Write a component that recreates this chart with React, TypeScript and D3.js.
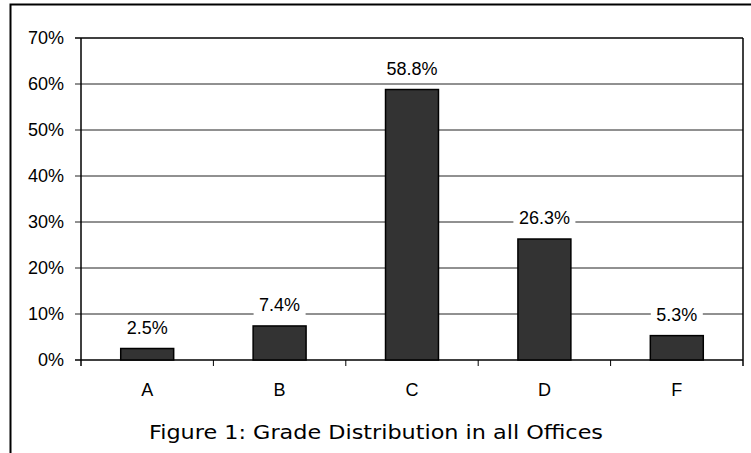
import React from "react";
import * as d3 from "d3";

const categories = ["A", "B", "C", "D", "F"];
const values = [2.5, 7.4, 58.8, 26.3, 5.3];
const yTicks = [0, 10, 20, 30, 40, 50, 60, 70];
const title = "Figure 1: Grade Distribution in all Offices";

export default function App() {
  const W = 751, H = 453;
  const left = 81, right = 743, top = 38, bottom = 360;
  const x = d3.scaleBand<string>().domain(categories).range([left, right]).paddingInner(0.6).paddingOuter(0.3);
  const xb = d3.scaleBand<string>().domain(categories).range([left, right]);
  const y = d3.scaleLinear().domain([0, 70]).range([bottom, top]);
  const font = "Liberation Sans, Arial, sans-serif";
  const fs = 18;
  return (
    <svg width={W} height={H} style={{ position: "absolute", left: 0, top: 0 }}>
      <rect x={0} y={0} width={W} height={H} fill="#fff" />
      <path d={`M10.5,${H} V4.5 H${W}`} fill="none" stroke="#000" strokeWidth={2} />
      {yTicks.map((t) => (
        <g key={t}>
          <line x1={left - 6} x2={right} y1={y(t)} y2={y(t)} stroke={t === 0 || t === 70 ? "#000" : "#222"} strokeWidth={t === 0 || t === 70 ? 1.5 : 1} />
          <text x={64} y={y(t)} dy="0.35em" textAnchor="end" fontFamily={font} fontSize={fs} fill="#000">{t}%</text>
        </g>
      ))}
      <line x1={left} x2={left} y1={top} y2={bottom + 6} stroke="#000" strokeWidth={1.5} />
      <line x1={right} x2={right} y1={top} y2={bottom + 6} stroke="#000" strokeWidth={1.5} />
      {categories.slice(1).map((c) => (
        <line key={c} x1={xb(c)!} x2={xb(c)!} y1={bottom} y2={bottom + 6} stroke="#000" strokeWidth={1} />
      ))}
      {categories.map((c, i) => {
        const bx = x(c)!;
        const bw = x.bandwidth();
        const cx = bx + bw / 2;
        const label = values[i].toFixed(1) + "%";
        const ly = y(values[i]) - 21;
        const tw = label.length * 10 + 12;
        return (
          <g key={c}>
            <rect x={bx} y={y(values[i])} width={bw} height={bottom - y(values[i])} fill="#333" stroke="#000" strokeWidth={1.5} />
            <rect x={cx - tw / 2} y={ly - 11} width={tw} height={22} fill="#fff" />
            <text x={cx} y={ly} dy="0.35em" textAnchor="middle" fontFamily={font} fontSize={fs} fill="#000">{label}</text>
            <text x={cx} y={390} dy="0.35em" textAnchor="middle" fontFamily={font} fontSize={fs} fill="#000">{c}</text>
          </g>
        );
      })}
      <text x={376} y={432} dy="0.35em" textAnchor="middle" fontFamily="DejaVu Sans, sans-serif" fontSize={20} fill="#000" textLength={454} lengthAdjust="spacingAndGlyphs">{title}</text>
    </svg>
  );
}
